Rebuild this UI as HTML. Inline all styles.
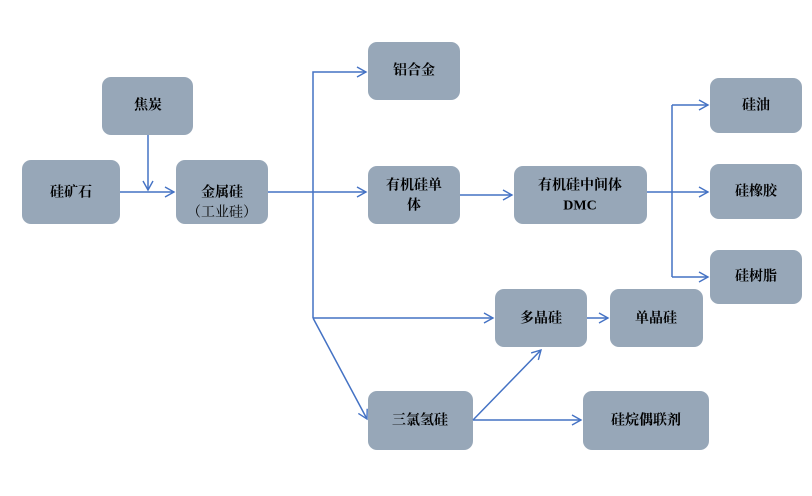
<!DOCTYPE html>
<html><head><meta charset="utf-8"><style>body{margin:0;background:#fff}svg{display:block}
text{font-family:"Liberation Serif","Noto Serif CJK SC",serif;font-weight:bold;font-size:14px;fill:#000;text-anchor:middle;dominant-baseline:central}</style></head>
<body>
<svg width="812" height="496" viewBox="0 0 812 496">
<defs><marker id="a" markerWidth="12" markerHeight="12" refX="10" refY="6" orient="auto" markerUnits="userSpaceOnUse"><path d="M1,1 L10,6 L1,11" fill="none" stroke="#4472c4" stroke-width="1.4"/></marker></defs>
<g fill="#97a7b8">
<rect x="22" y="160" width="98" height="64" rx="9"/>
<rect x="102" y="77" width="91" height="58" rx="9"/>
<rect x="176" y="160" width="92" height="64" rx="9"/>
<rect x="368" y="42" width="92" height="58" rx="9"/>
<rect x="368" y="166" width="92" height="58" rx="9"/>
<rect x="514" y="166" width="133" height="58" rx="9"/>
<rect x="710" y="78" width="92" height="55" rx="9"/>
<rect x="710" y="164" width="92" height="55" rx="9"/>
<rect x="710" y="250" width="92" height="54" rx="9"/>
<rect x="495" y="289" width="92" height="58" rx="9"/>
<rect x="610" y="289" width="93" height="58" rx="9"/>
<rect x="368" y="391" width="105" height="59" rx="9"/>
<rect x="583" y="391" width="126" height="59" rx="9"/>
</g>
<g stroke="#4472c4" stroke-width="1.5" fill="none">
<path d="M120,192 H174" marker-end="url(#a)"/>
<path d="M148,135 V190" marker-end="url(#a)"/>
<path d="M268,192 H366" marker-end="url(#a)"/>
<path d="M313,318 V72 H366" marker-end="url(#a)"/>
<path d="M313,318 H493" marker-end="url(#a)"/>
<path d="M313,318 L367,419" marker-end="url(#a)"/>
<path d="M473,420 H581" marker-end="url(#a)"/>
<path d="M473,420 L541,350" marker-end="url(#a)"/>
<path d="M587,318 H608" marker-end="url(#a)"/>
<path d="M460,195 H512" marker-end="url(#a)"/>
<path d="M647,192 H672"/>
<path d="M672,105 V277"/>
<path d="M672,105 H708" marker-end="url(#a)"/>
<path d="M672,192 H708" marker-end="url(#a)"/>
<path d="M672,277 H708" marker-end="url(#a)"/>
</g>
<text x="71" y="193">硅矿石</text>
<text x="148" y="106">焦炭</text>
<text x="222" y="193">金属硅</text>
<text x="222" y="213" style="font-weight:normal">（工业硅）</text>
<text x="414" y="71">铝合金</text>
<text x="414" y="186">有机硅单</text>
<text x="414" y="206">体</text>
<text x="580" y="186">有机硅中间体</text>
<text x="580" y="206">DMC</text>
<text x="756" y="106">硅油</text>
<text x="756" y="192">硅橡胶</text>
<text x="756" y="277">硅树脂</text>
<text x="541" y="319">多晶硅</text>
<text x="656" y="319">单晶硅</text>
<text x="420" y="421">三氯氢硅</text>
<text x="646" y="421">硅烷偶联剂</text>
</svg>
</body></html>
